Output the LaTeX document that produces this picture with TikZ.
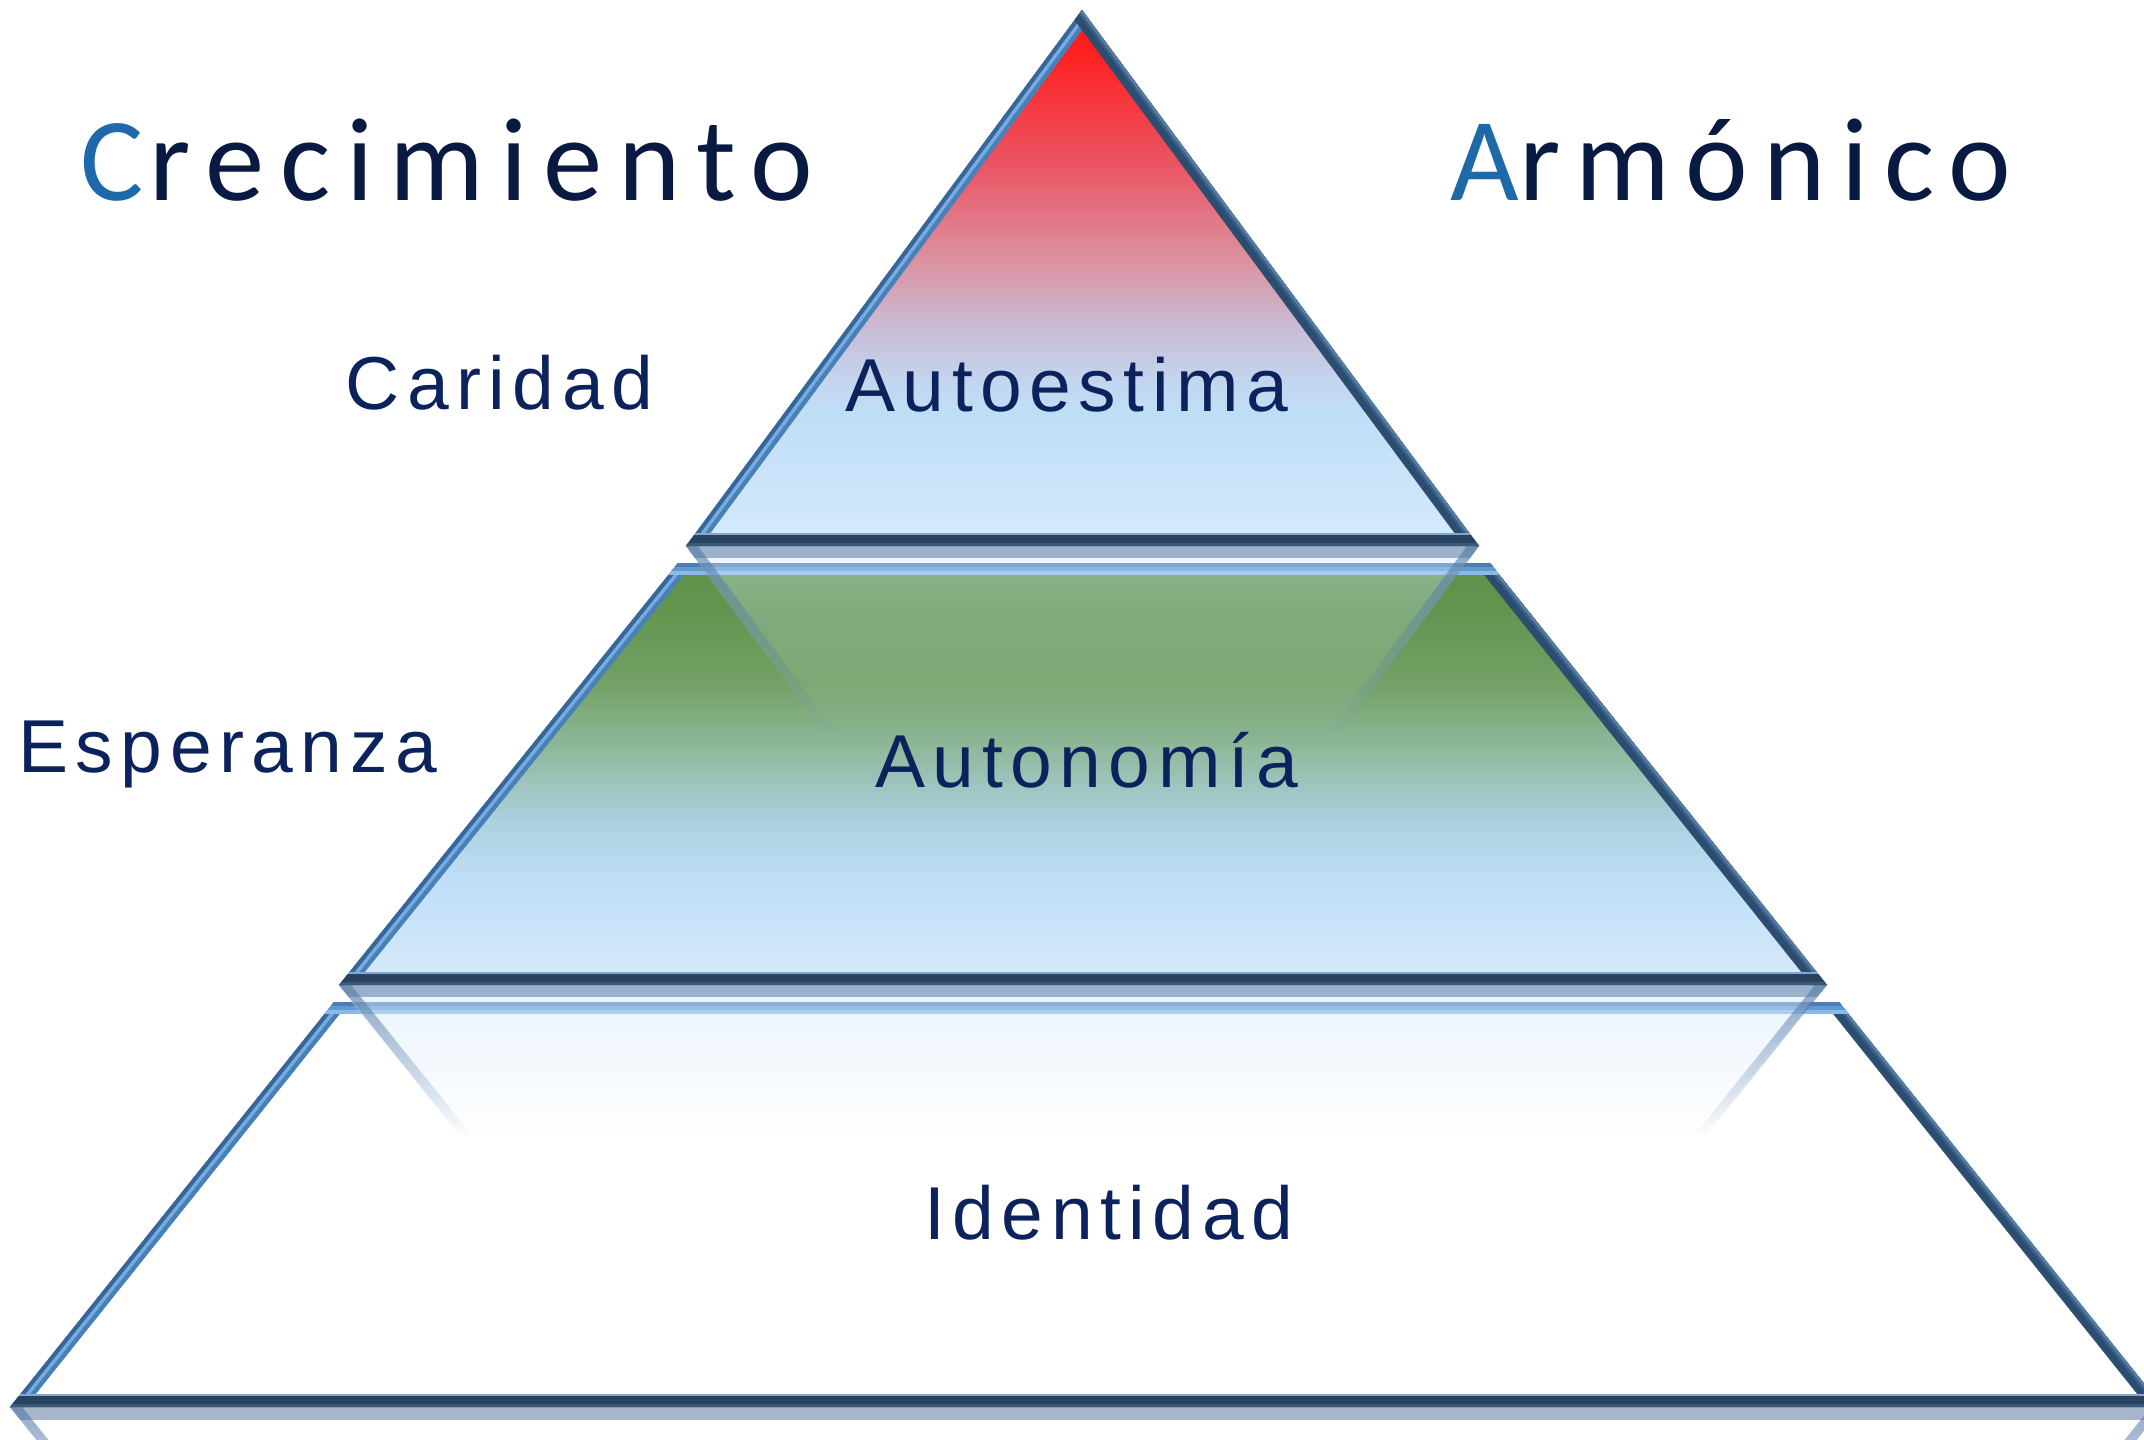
\documentclass[tikz,border=0pt]{standalone}
\usepackage{fontspec}
\usetikzlibrary{fadings}
\newfontfamily\labfont[LetterSpace=10]{Liberation Sans}
\newfontfamily\titfont[LetterSpace=13.5]{Carlito}
\newfontfamily\titfontb[LetterSpace=13]{Carlito}

\definecolor{labcol}{RGB}{12,34,92}
\definecolor{titcol}{RGB}{8,26,66}
\definecolor{titblue}{RGB}{30,105,170}
% top triangle gradient
\definecolor{ta}{RGB}{214,234,252}
\definecolor{tb}{RGB}{192,222,247}
\definecolor{tc}{RGB}{195,215,240}
\definecolor{td}{RGB}{200,190,215}
\definecolor{te}{RGB}{218,150,165}
\definecolor{tf}{RGB}{235,85,100}
\definecolor{tg}{RGB}{255,30,30}
\definecolor{th}{RGB}{255,25,25}
% middle trapezoid gradient
\definecolor{ma}{RGB}{215,234,252}
\definecolor{mb}{RGB}{192,222,247}
\definecolor{mc}{RGB}{170,207,220}
\definecolor{md}{RGB}{145,186,160}
\definecolor{me}{RGB}{115,160,100}
\definecolor{mf}{RGB}{98,148,78}
\definecolor{mg}{RGB}{95,145,72}
% bevel colours
\definecolor{lout}{RGB}{55,102,155}
\definecolor{lmid}{RGB}{120,172,222}
\definecolor{lin}{RGB}{72,128,186}
\definecolor{rout}{RGB}{85,125,165}
\definecolor{rmid}{RGB}{58,95,136}
\definecolor{rin}{RGB}{44,76,112}
\definecolor{bout}{RGB}{58,88,120}
\definecolor{bmid}{RGB}{40,66,96}
\definecolor{bin}{RGB}{130,168,205}
\definecolor{tpout}{RGB}{75,125,182}
\definecolor{tpmid}{RGB}{98,152,210}
\definecolor{tpin}{RGB}{140,186,232}
\definecolor{reflband}{RGB}{60,95,140}
\definecolor{refledge}{RGB}{85,125,168}

\pgfdeclareverticalshading{topshade}{100bp}{color(0bp)=(ta); color(25bp)=(ta); color(37bp)=(tb); color(40bp)=(tc); color(45bp)=(td); color(51bp)=(te); color(60.5bp)=(tf); color(71.5bp)=(tg); color(75bp)=(th); color(100bp)=(th)}
\pgfdeclareverticalshading{midshade}{100bp}{color(0bp)=(ma); color(25bp)=(ma); color(37.5bp)=(mb); color(45bp)=(mc); color(52.5bp)=(md); color(61bp)=(me); color(70bp)=(mf); color(75bp)=(mg); color(100bp)=(mg)}

\tikzfading[name=reflA, top color=transparent!58, bottom color=transparent!100]
\tikzfading[name=reflB, top color=transparent!45, bottom color=transparent!100]
\tikzfading[name=reflE, top color=transparent!35, bottom color=transparent!100]

% bevelled edges (drawn inside a clip of the shape; 1pt of width = 1px inside)
\newcommand\bvL[1]{\draw[line width=12pt,color=lin,line cap=rect] #1; \draw[line width=7.5pt,color=lmid,line cap=rect] #1; \draw[line width=4pt,color=lout,line cap=rect] #1;}
\newcommand\bvR[1]{\draw[line width=12pt,color=rin,line cap=rect] #1; \draw[line width=5pt,color=rmid,line cap=rect] #1; \draw[line width=2.5pt,color=rout,line cap=rect] #1;}
\newcommand\bvB[1]{\draw[line width=13pt,color=bin,line cap=rect] #1; \draw[line width=11pt,color=bmid,line cap=rect] #1; \draw[line width=3.5pt,color=bout,line cap=rect] #1;}
\newcommand\bvT[1]{\draw[line width=12pt,color=tpin,line cap=rect] #1; \draw[line width=8pt,color=tpmid,line cap=rect] #1; \draw[line width=4pt,color=tpout,line cap=rect] #1;}

\begin{document}
\begin{tikzpicture}[x=0.5pt,y=-0.5pt,line join=miter,
  lab/.style={font=\labfont\fontsize{37.5pt}{40pt}\selectfont, text=labcol, inner sep=0pt, anchor=base west},
  tit/.style={font=\titfont\fontsize{59.3pt}{64pt}\selectfont, text=titcol, inner sep=0pt, anchor=base west},
  titb/.style={font=\titfontb\fontsize{59.3pt}{64pt}\selectfont, text=titcol, inner sep=0pt, anchor=base west}]
\useasboundingbox (0,0) rectangle (2144,1440);
\fill[white] (0,0) rectangle (2144,1440);
\clip (0,0) rectangle (2144,1440);

% corner coordinates
\coordinate (A1) at (1082,10);
\coordinate (B1) at (686,546);
\coordinate (C1) at (1479,546);
\coordinate (A2) at (678,563);
\coordinate (B2) at (1490,563);
\coordinate (C2) at (1827,985);
\coordinate (D2) at (339,985);
\coordinate (A3) at (334,1002);
\coordinate (B3) at (1839,1002);
\coordinate (C3) at (2163,1407);
\coordinate (D3) at (10,1407);

% ---------- bottom level ----------
\fill[white] (A3)--(B3)--(C3)--(D3)--cycle;
\begin{scope}
  \clip (A3)--(B3)--(C3)--(D3)--cycle;
  \bvL{(D3)--(A3)}
  \bvR{(B3)--(C3)}
  \bvB{(C3)--(D3)}
  \bvT{(A3)--(B3)}
\end{scope}

% reflection of middle level
\coordinate (R2l) at (459.5,1135);
\coordinate (R2r) at (1706.5,1135);
\fill[ma, path fading=reflB] (D2)--(C2)--(R2r)--(R2l)--cycle;
\begin{scope}
  \clip (D2)--(C2)--(R2r)--(R2l)--cycle;
  \fill[reflband, fill opacity=0.45] (300,985) rectangle (1900,997);
\end{scope}
\fill[refledge, path fading=reflE] (D2)--(R2l)--++(12,0)--(351,985)--cycle;
\fill[refledge, path fading=reflE] (C2)--(R2r)--++(-12,0)--(1815,985)--cycle;

% ---------- middle level ----------
\shade[shading=midshade] (A2)--(B2)--(C2)--(D2)--cycle;
\begin{scope}
  \clip (A2)--(B2)--(C2)--(D2)--cycle;
  \bvL{(D2)--(A2)}
  \bvR{(B2)--(C2)}
  \bvB{(C2)--(D2)}
  \bvT{(A2)--(B2)}
\end{scope}

% reflection of top level
\coordinate (R1l) at (822,730);
\coordinate (R1r) at (1343,730);
\fill[ta, path fading=reflA] (B1)--(C1)--(R1r)--(R1l)--cycle;
\begin{scope}
  \clip (B1)--(C1)--(R1r)--(R1l)--cycle;
  \fill[reflband, fill opacity=0.45] (600,546) rectangle (1600,558);
\end{scope}
\fill[refledge, path fading=reflE] (B1)--(R1l)--++(12,0)--(698,546)--cycle;
\fill[refledge, path fading=reflE] (C1)--(R1r)--++(-12,0)--(1467,546)--cycle;

% ---------- top level ----------
\shade[shading=topshade] (A1)--(C1)--(B1)--cycle;
\begin{scope}
  \clip (A1)--(C1)--(B1)--cycle;
  \bvL{(B1)--(A1)}
  \bvR{(A1)--(C1)}
  \bvB{(C1)--(B1)}
\end{scope}

% reflection of bottom level
\coordinate (R3l) at (130,1557);
\coordinate (R3r) at (2043,1557);
\begin{scope}
  \clip (D3)--(C3)--(R3r)--(R3l)--cycle;
  \fill[reflband, fill opacity=0.45] (0,1407) rectangle (2200,1420);
\end{scope}
\fill[refledge, path fading=reflE] (D3)--(R3l)--++(12,0)--(22,1407)--cycle;
\fill[refledge, path fading=reflE] (C3)--(R3r)--++(-12,0)--(2151,1407)--cycle;

% ---------- texts ----------
\node[tit] (crec) at (80,200) {{\color{titblue}C}\kern3pt recimiento};
\node[titb] (armo) at (1450,200) {{\color{titblue}A}rmónico};
\node[lab] (cari) at (345,409) {Caridad};
\node[lab] (auto) at (845,411) {Autoestima};
\node[lab] (espe) at (18,772) {Esperanza};
\node[lab] (auton) at (875,787) {Autonomía};
\node[lab] (iden) at (924,1239) {Identidad};
\end{tikzpicture}
\end{document}
